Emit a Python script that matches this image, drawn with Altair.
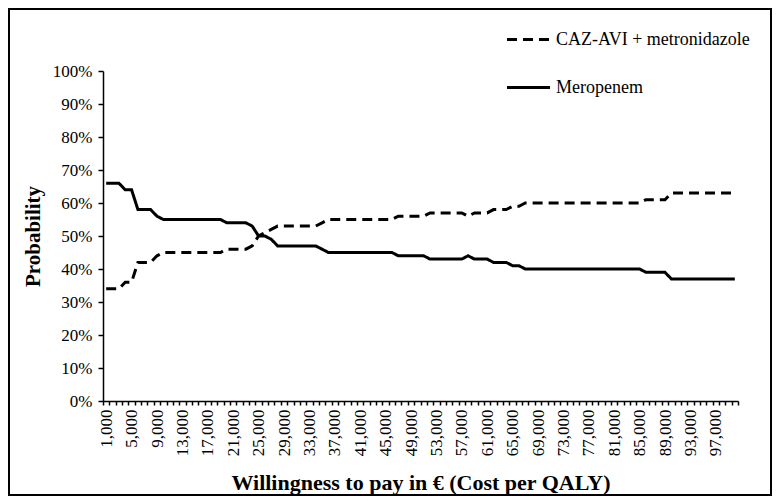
import altair as alt
import pandas as pd

# Willingness-to-pay categories (EUR per QALY)
wtp = list(range(1000, 100001, 1000))

series_names = ["CAZ-AVI + metronidazole", "Meropenem"]

caz = [34, 34, 34, 36, 36, 42, 42, 42, 44, 45,
       45, 45, 45, 45, 45, 45, 45, 45, 45, 46,
       46, 46, 46, 47, 50, 51, 52, 53, 53, 53,
       53, 53, 53, 53, 54, 55, 55, 55, 55, 55,
       55, 55, 55, 55, 55, 55, 56, 56, 56, 56,
       56, 57, 57, 57, 57, 57, 57, 56, 57, 57,
       57, 58, 58, 58, 59, 59, 60, 60, 60, 60,
       60, 60, 60, 60, 60, 60, 60, 60, 60, 60,
       60, 60, 60, 60, 60, 61, 61, 61, 61, 63,
       63, 63, 63, 63, 63, 63, 63, 63, 63, 63]

mero = [66, 66, 66, 64, 64, 58, 58, 58, 56, 55,
        55, 55, 55, 55, 55, 55, 55, 55, 55, 54,
        54, 54, 54, 53, 50, 50, 49, 47, 47, 47,
        47, 47, 47, 47, 46, 45, 45, 45, 45, 45,
        45, 45, 45, 45, 45, 45, 44, 44, 44, 44,
        44, 43, 43, 43, 43, 43, 43, 44, 43, 43,
        43, 42, 42, 42, 41, 41, 40, 40, 40, 40,
        40, 40, 40, 40, 40, 40, 40, 40, 40, 40,
        40, 40, 40, 40, 40, 39, 39, 39, 39, 37,
        37, 37, 37, 37, 37, 37, 37, 37, 37, 37]

y_ticks = [0, 0.1, 0.2, 0.3, 0.4, 0.5, 0.6, 0.7, 0.8, 0.9, 1.0]
x_label_values = list(range(1000, 97001, 4000))

df = pd.DataFrame({
    "wtp": wtp + wtp,
    "prob": [v / 100 for v in caz + mero],
    "strategy": [series_names[0]] * len(caz) + [series_names[1]] * len(mero),
})

# tick marks sit on category boundaries, labels at category centres
tick_vals = [v - 500 for v in wtp] + [wtp[-1] + 500]
label_expr = ("indexof([" + ",".join(str(v) for v in x_label_values) +
              "], datum.value + 500) >= 0 ? format(datum.value + 500, ',') : ''")

W, H = 635, 330
PL, PT, PR, PB = 95, 63, 34, 95
SERIF = "Liberation Serif"

lines = alt.Chart(df).mark_line(color="black", strokeWidth=3).encode(
    x=alt.X("wtp:Q",
            scale=alt.Scale(domain=[500, 100500], nice=False, zero=False),
            axis=alt.Axis(values=tick_vals, labelExpr=label_expr, labelAngle=-90,
                          labelOffset=3.2, labelOverlap=False, labelFlush=False,
                          labelBound=False, tickSize=4, labelPadding=4,
                          grid=False, title="Willingness to pay in € (Cost per QALY)",
                          titlePadding=17, titleFontSize=22)),
    y=alt.Y("prob:Q",
            scale=alt.Scale(domain=[0, 1], nice=False),
            axis=alt.Axis(values=y_ticks, format=".0%", tickSize=5, grid=False,
                          title="Probability", titlePadding=9, titleFontSize=21,
                          labelPadding=6)),
    strokeDash=alt.StrokeDash("strategy:N",
                              scale=alt.Scale(domain=series_names, range=[[10, 6], [1, 0]]),
                              legend=alt.Legend(title=None, orient="none", legendX=402, legendY=-55,
                                                symbolType="stroke", symbolSize=1850,
                                                symbolStrokeWidth=3, symbolStrokeColor="black",
                                                labelFont=SERIF, labelFontSize=18, labelColor="black",
                                                labelLimit=400, rowPadding=15, labelOffset=4)),
)

frame = alt.Chart(pd.DataFrame({"k": [0]})).mark_rect(
    filled=False, stroke="black", strokeWidth=2
).encode(
    x=alt.value(-PL + 1), x2=alt.value(W + PR - 1),
    y=alt.value(-PT + 1), y2=alt.value(H + PB - 1),
)

chart = alt.layer(lines, frame).properties(
    width=W, height=H,
    autosize=alt.AutoSizeParams(type="none"),
    padding={"left": PL, "top": PT, "right": PR, "bottom": PB},
).configure(background="white").configure_view(stroke=None).configure_axis(
    labelFont=SERIF, titleFont=SERIF, labelFontSize=17, labelColor="black",
    titleColor="black", titleFontWeight="bold", domainColor="black", domainWidth=1.5,
    tickColor="black", tickWidth=1.5, grid=False,
)

chart.save("out.html", embed_options={"renderer": "svg", "actions": False})
